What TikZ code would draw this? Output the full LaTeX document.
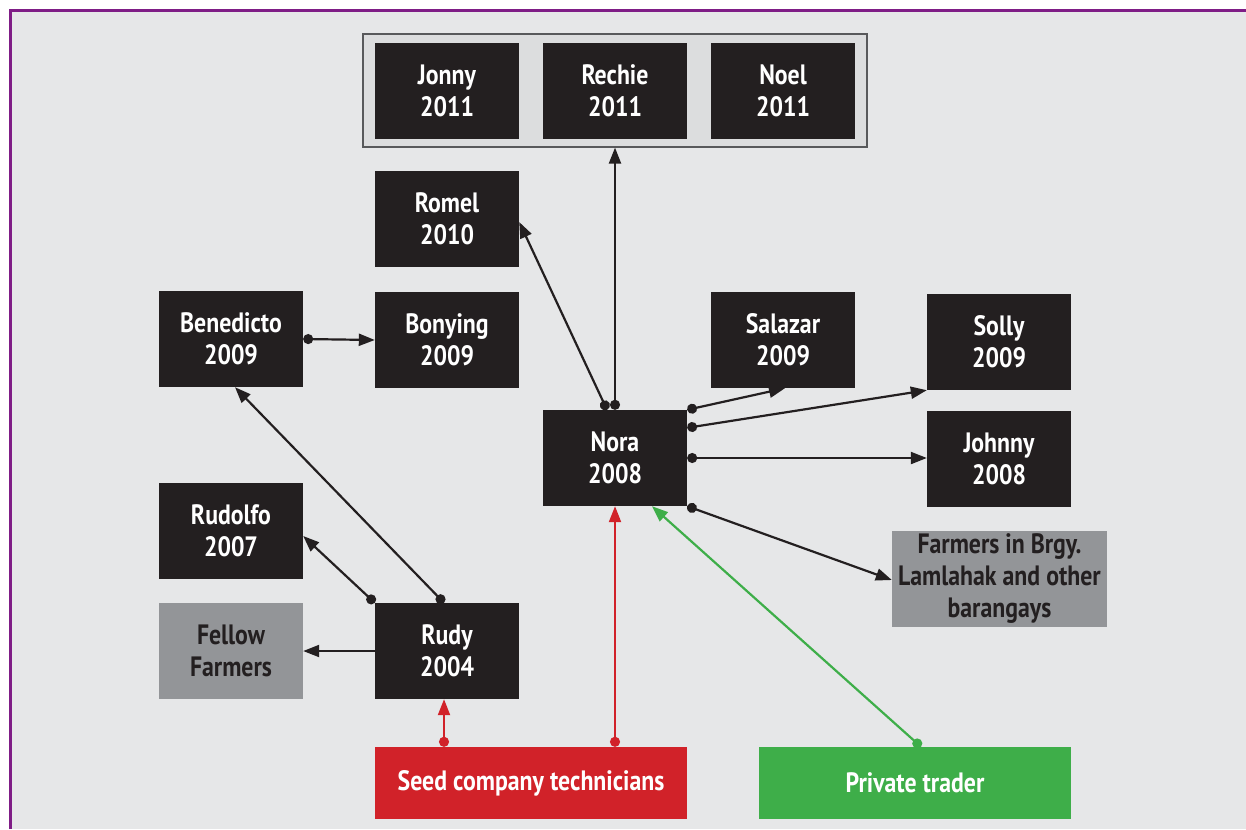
\documentclass[tikz,border=0pt]{standalone}
\usepackage{fontspec}
\setmainfont{PT Sans}[FakeStretch=0.85]
\usetikzlibrary{arrows.meta}
\definecolor{dk}{HTML}{231F20}
\definecolor{gy}{HTML}{939598}
\definecolor{bg}{HTML}{E6E7E8}
\definecolor{grp}{HTML}{DCDDDE}
\definecolor{grpline}{HTML}{58595B}
\definecolor{rd}{HTML}{D12229}
\definecolor{gn}{HTML}{3EAE49}
\definecolor{pu}{HTML}{7F1D86}
\tikzset{
  lbl/.style={font=\fontsize{28}{32}\selectfont\bfseries, align=center, inner sep=0pt},
  dbox/.style={lbl, fill=dk, text=white, minimum width=144pt, minimum height=96pt},
  gbox/.style={lbl, fill=gy, text=dk, minimum height=96pt},
  sbox/.style={lbl, text=white, minimum width=312pt, minimum height=72pt},
  conn/.style={line width=2.2pt, -{Triangle[length=16pt,width=12pt]}},
  dconn/.style={line width=2.2pt, {Circle[length=10pt]}-{Triangle[length=16pt,width=12pt]}},
}
\begin{document}
\begin{tikzpicture}[x=1pt,y=-1pt]
\useasboundingbox (0,0) rectangle (1246,829);
\fill[white] (0,0) rectangle (1246,829);
\fill[bg] (10,11) rectangle (1246,829);
\draw[pu, line width=3pt] (10,829) -- (10,11) -- (1246,11);
% group box
\node[draw=grpline, fill=grp, line width=1.2pt, minimum width=504pt, minimum height=113pt, inner sep=0pt] (grp) at (615,90.5) {};
\node[dbox] (jonny) at (447,91) {Jonny\\2011};
\node[dbox] (rechie) at (615,91) {Rechie\\2011};
\node[dbox] (noel) at (783,91) {Noel\\2011};
\node[dbox] (romel) at (447,219) {Romel\\2010};
\node[dbox] (bene) at (231,339) {Benedicto\\2009};
\node[dbox] (bony) at (447,340) {Bonying\\2009};
\node[dbox] (salazar) at (783,340) {Salazar\\2009};
\node[dbox] (solly) at (999,342) {Solly\\2009};
\node[dbox] (nora) at (615,458) {Nora\\2008};
\node[dbox] (johnny) at (999,459) {Johnny\\2008};
\node[gbox, minimum width=215pt] (farm) at (999.5,579) {Farmers in Brgy.\\Lamlahak and other\\barangays};
\node[dbox] (rudolfo) at (231,531) {Rudolfo\\2007};
\node[gbox, minimum width=144pt] (fellow) at (231,651) {Fellow\\Farmers};
\node[dbox] (rudy) at (447,651) {Rudy\\2004};
\node[sbox, fill=rd] (seed) at (531,783) {Seed company technicians};
\node[sbox, fill=gn] (trader) at (915,783) {Private trader};
% connectors
\draw[dconn, dk] (bene.east) -- (bony.west);
\draw[dconn, dk] (rudy.north west) -- ([yshift=-5pt]rudolfo.east);
\draw[dconn, dk] ([xshift=-3pt]rudy.north) -- ([xshift=4pt]bene.south);
\draw[conn, dk] (rudy.west) -- (fellow.east);
\draw[dconn, rd] ([xshift=-87pt]seed.north) -- ([xshift=-3pt]rudy.south);
\draw[dconn, rd] ([xshift=84pt]seed.north) -- (nora.south);
\draw[dconn, gn] ([xshift=6pt]trader.north) -- ([xshift=37pt]nora.south);
\draw[dconn, dk] ([xshift=-8pt]nora.north) -- ([yshift=-3pt]romel.east);
\draw[dconn, dk] (nora.north) -- (grp.south);
\draw[dconn, dk] (nora.north east) -- ([xshift=2pt]salazar.south);
\draw[dconn, dk] ([yshift=-18pt]nora.north east) -- (solly.south west);
\draw[dconn, dk] (nora.east) -- (johnny.west |- nora.east);
\draw[dconn, dk] (nora.south east) -- ([yshift=-1pt]farm.west);
\end{tikzpicture}
\end{document}
